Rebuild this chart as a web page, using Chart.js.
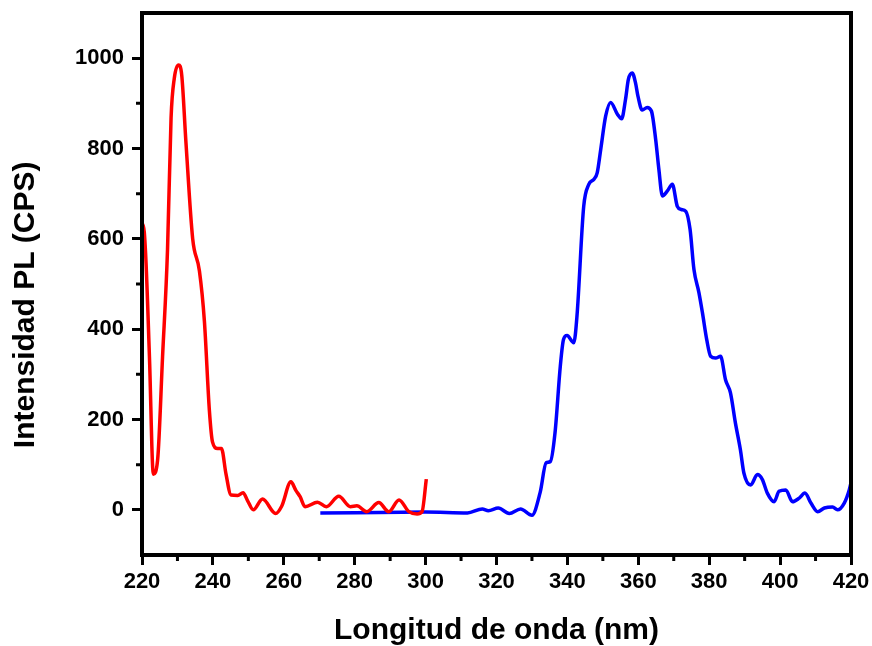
<!DOCTYPE html>
<html>
<head>
<meta charset="utf-8">
<title>Espectro PL</title>
<script src="https://cdn.jsdelivr.net/npm/chart.js@4.4.1/dist/chart.umd.min.js"></script>
<style>
  html, body { margin: 0; padding: 0; background: #fff; }
  canvas { display: block; }
</style>
</head>
<body>
<canvas id="plChart" width="872" height="646"></canvas>
<script>
// excitation spectrum (red)
const redWavelength = [220, 220.3, 221, 222.1, 223.2, 224.4, 225.8, 227.2, 228.2, 229.1,
  230.3, 231.2, 232.4, 234.3, 236.2, 237.6, 239, 239.9, 241.3, 242.4,
  243.7, 245.1, 247, 248.5, 249.8, 251.4, 254, 257.7, 259.4, 262,
  263.4, 264.6, 266, 269.5, 272, 275.5, 278.8, 280.6, 283.4, 286.8,
  289.6, 292.5, 295.3, 297.6, 299, 300.2];
const redIntensity = [600, 632, 570, 339, 79, 110, 339, 576, 868, 955,
  985, 963, 813, 600, 529, 418, 221, 150, 136, 136,
  79, 33, 32, 38, 20, 0, 24, -8, 8, 62,
  43, 29, 7, 17, 7, 30, 7, 9, -4, 16,
  -4, 22, -4, -9, -4, 68];

// emission spectrum (blue)
const blueWavelength = [270.3, 300, 311.8, 316, 317.7, 320.5, 323.6, 326.8, 330, 332.3,
  334, 335.2, 336.5, 338, 338.9, 339.9, 341.8, 342.7, 344.6, 346,
  347.5, 348.4, 349.4, 350.8, 352.2, 354.1, 355.3, 356.4, 357.2, 358.3,
  359.2, 359.9, 361.1, 362.5, 363.7, 364.9, 365.8, 366.8, 368.2, 369.6,
  371, 372.1, 373.4, 374.6, 375.7, 377.1, 378.1, 379.3, 380.4, 381.8,
  383.2, 384.6, 386, 387.4, 388.8, 389.8, 391.7, 393.6, 395, 396.4,
  398.3, 399.7, 401.6, 403.5, 405.4, 407, 408.7, 410.6, 412.5, 414.8,
  416.2, 418.1, 419.5, 420.2];
const blueIntensity = [-7, -5, -7, 2, -2, 4, -8, 2, -12, 38,
  104, 107, 170, 318, 377, 386, 370, 429, 672, 720,
  732, 746, 798, 872, 902, 876, 866, 909, 953, 967,
  946, 916, 885, 891, 883, 820, 754, 695, 706, 721,
  672, 665, 661, 621, 532, 481, 436, 377, 340, 336,
  340, 288, 259, 192, 133, 81, 55, 78, 67, 37,
  18, 41, 44, 18, 26, 37, 15, -4, 4, 6,
  0, 15, 44, 67];

// axis ticks
const xTicks = [220, 240, 260, 280, 300, 320, 340, 360, 380, 400, 420];
const yTicks = [0, 200, 400, 600, 800, 1000];

const FONT = "'Liberation Sans', Arial, sans-serif";

const toPoints = (xs, ys) => xs.map((x, i) => ({ x, y: ys[i] }));

// box frame and the short minor ticks
const framePlugin = {
  id: 'frame',
  afterDraw(chart) {
    const { ctx, chartArea: a, scales } = chart;
    ctx.save();
    ctx.strokeStyle = '#000';
    ctx.lineWidth = 4;
    ctx.strokeRect(a.left, a.top, a.right - a.left, a.bottom - a.top);

    ctx.lineWidth = 3;
    ctx.beginPath();
    for (let v = 230; v < 420; v += 20) {
      const px = scales.x.getPixelForValue(v);
      ctx.moveTo(px, a.bottom);
      ctx.lineTo(px, a.bottom + 6);
    }
    for (let v = 100; v < 1100; v += 200) {
      const py = scales.y.getPixelForValue(v);
      ctx.moveTo(a.left, py);
      ctx.lineTo(a.left - 6, py);
    }
    ctx.stroke();
    ctx.restore();
  }
};

new Chart(document.getElementById('plChart'), {
  type: 'line',
  data: {
    datasets: [
      {
        label: 'Excitación',
        data: toPoints(redWavelength, redIntensity),
        borderColor: '#ff0000',
        borderWidth: 3.5,
        pointRadius: 0,
        cubicInterpolationMode: 'monotone',
        fill: false
      },
      {
        label: 'Emisión',
        data: toPoints(blueWavelength, blueIntensity),
        borderColor: '#0000ff',
        borderWidth: 3.5,
        pointRadius: 0,
        cubicInterpolationMode: 'monotone',
        fill: false
      }
    ]
  },
  options: {
    responsive: false,
    animation: false,
    devicePixelRatio: 1,
    layout: { padding: { top: 13, right: 21, left: 0, bottom: 0 } },
    plugins: {
      legend: { display: false },
      tooltip: { enabled: false }
    },
    scales: {
      x: {
        type: 'linear',
        min: 220,
        max: 420,
        afterFit: (s) => { s.height = 91; s.paddingLeft = 0; s.paddingRight = 0; },
        afterBuildTicks: (s) => { s.ticks = xTicks.map(v => ({ value: v })); },
        border: { display: false },
        grid: { drawOnChartArea: false, tickLength: 10, tickWidth: 3, tickColor: '#000' },
        ticks: {
          color: '#000',
          padding: 4,
          maxRotation: 0,
          autoSkip: false,
          callback: (v) => String(v),
          font: { family: FONT, size: 22, weight: 'bold' }
        },
        title: {
          display: true,
          text: 'Longitud de onda (nm)',
          color: '#000',
          padding: 0,
          font: { family: FONT, size: 30, weight: 'bold', lineHeight: 1 }
        }
      },
      y: {
        type: 'linear',
        min: -100,
        max: 1100,
        afterFit: (s) => { s.width = 142; s.paddingTop = 0; s.paddingBottom = 0; },
        afterBuildTicks: (s) => { s.ticks = yTicks.map(v => ({ value: v })); },
        border: { display: false },
        grid: { drawOnChartArea: false, tickLength: 10, tickWidth: 3, tickColor: '#000' },
        ticks: {
          color: '#000',
          padding: 8,
          callback: (v) => String(v),
          font: { family: FONT, size: 22, weight: 'bold' }
        },
        title: {
          display: true,
          text: 'Intensidad PL (CPS)' + '\u00a0'.repeat(5),
          color: '#000',
          padding: { top: 11, bottom: 0 },
          font: { family: FONT, size: 30, weight: 'bold', lineHeight: 1 }
        }
      }
    }
  },
  plugins: [framePlugin]
});
</script>
</body>
</html>
